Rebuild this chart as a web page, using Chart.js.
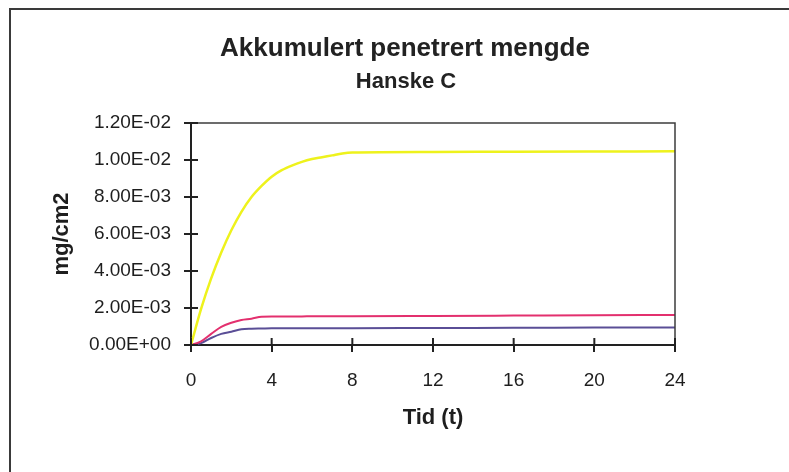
<!DOCTYPE html>
<html>
<head>
<meta charset="utf-8">
<script src="https://cdn.jsdelivr.net/npm/chart.js@4.4.0/dist/chart.umd.min.js"></script>
<style>
  html, body { margin: 0; padding: 0; background: #fff; }
  #ramme { position: absolute; left: 9px; top: 8px; width: 790px; height: 470px;
           border-left: 2px solid #3a3a3a; border-top: 2px solid #3a3a3a; }
  #graf { position: absolute; left: 0; top: 0; }
</style>
</head>
<body>
<div id="ramme"></div>
<canvas id="graf" width="789" height="472"></canvas>
<script>
// tid i timer
var tider = [0, 0.5, 1, 1.5, 2, 2.5, 3, 3.5, 4, 4.5, 5, 5.5, 6, 6.5, 7, 7.5, 8, 12, 16, 20, 24];

// akkumulert mengde (mg/cm2) for hver serie
var serieGul = [0, 0.00195, 0.0036, 0.0050, 0.0062, 0.0072, 0.0080, 0.0086, 0.0091, 0.00945,
    0.0097, 0.0099, 0.01005, 0.01015, 0.01025, 0.01035, 0.0104, 0.01043, 0.01045, 0.01046, 0.01047];
var serieRosa = [0, 0.0002, 0.0006, 0.00098, 0.0012, 0.00135, 0.00142, 0.00153, 0.00154, 0.00154,
    0.001545, 0.001545, 0.00155, 0.00155, 0.00155, 0.001555, 0.001555, 0.00157, 0.00159, 0.00161, 0.00162];
var serieLilla = [0, 0.0001, 0.00038, 0.0006, 0.00072, 0.00085, 0.00088, 0.00089, 0.0009, 0.0009,
    0.0009, 0.0009, 0.0009, 0.0009, 0.0009, 0.000905, 0.000905, 0.00092, 0.00093, 0.00094, 0.00095];

var tittel = 'Akkumulert penetrert mengde';
var undertittel = 'Hanske C';

var yMaks = 0.012, ySteg = 0.002;
var xMaks = 24, xSteg = 4;

function punkter(verdier) {
    var ut = [];
    for (var i = 0; i < tider.length; i++) {
        ut.push({ x: tider[i], y: verdier[i] });
    }
    return ut;
}

// 1.20E-02 format som i Excel
function excelFormat(v) {
    if (Math.abs(v) < 1e-12) return '0.00E+00';
    var s = v.toExponential(2).toUpperCase(); // 1.20E-2
    var deler = s.split('E');
    var eks = parseInt(deler[1]);
    var fortegn = eks < 0 ? '-' : '+';
    var tall = Math.abs(eks);
    return deler[0] + 'E' + fortegn + (tall < 10 ? '0' + tall : tall);
}

const fontNavn = "'Liberation Sans', Arial, sans-serif";

// overskrift tegnes selv (sentrert over hele diagramrammen, ikke bare plottet)
const overskrift = {
    id: 'overskrift',
    afterDraw(chart) {
        const ctx = chart.ctx;
        ctx.save();
        ctx.fillStyle = '#222';
        ctx.textAlign = 'center';
        ctx.textBaseline = 'middle';
        ctx.font = 'bold 26px ' + fontNavn;
        ctx.fillText(tittel, 405, 49);
        ctx.font = 'bold 22px ' + fontNavn;
        ctx.fillText(undertittel, 406, 82);
        ctx.restore();
    }
};

// tick-merker inn i plottet + ramme rundt plottområdet
const krysstikk = {
    id: 'krysstikk',
    afterDraw(chart) {
        const ctx = chart.ctx;
        const a = chart.chartArea;
        const xs = chart.scales.x, ys = chart.scales.y;
        ctx.save();
        ctx.strokeStyle = '#3c3c3c';
        ctx.lineWidth = 1.5;
        ctx.beginPath();
        ctx.moveTo(a.left, a.top);
        ctx.lineTo(a.right, a.top);
        ctx.lineTo(a.right, a.bottom);
        ctx.stroke();
        ctx.strokeStyle = '#222';
        ctx.lineWidth = 2;
        ys.ticks.forEach(function (t) {
            var py = ys.getPixelForValue(t.value);
            ctx.beginPath();
            ctx.moveTo(a.left, py);
            ctx.lineTo(a.left + 7, py);
            ctx.stroke();
        });
        xs.ticks.forEach(function (t) {
            var px = xs.getPixelForValue(t.value);
            ctx.beginPath();
            ctx.moveTo(px, a.bottom);
            ctx.lineTo(px, a.bottom - 7);
            ctx.stroke();
        });
        ctx.restore();
    }
};

new Chart(document.getElementById('graf').getContext('2d'), {
    type: 'line',
    data: {
        datasets: [
            { label: 'Serie 1', data: punkter(serieGul), borderColor: '#eef21c', borderWidth: 2.5 },
            { label: 'Serie 2', data: punkter(serieRosa), borderColor: '#e3306e', borderWidth: 2 },
            { label: 'Serie 3', data: punkter(serieLilla), borderColor: '#5a4e96', borderWidth: 2 }
        ]
    },
    options: {
        responsive: false,
        animation: false,
        elements: { point: { radius: 0 }, line: { cubicInterpolationMode: 'monotone' } },
        layout: { padding: { left: 40, right: 114, top: 123, bottom: 41 } },
        plugins: {
            legend: { display: false },
            tooltip: { enabled: false },
            title: { display: false }
        },
        scales: {
            x: {
                type: 'linear',
                min: 0,
                max: xMaks,
                afterBuildTicks: function (skala) {
                    var t = [];
                    for (var v = 0; v <= xMaks; v += xSteg) t.push({ value: v });
                    skala.ticks = t;
                },
                afterFit: function (skala) { skala.height = 86; },
                ticks: {
                    color: '#1e1e1e',
                    padding: 17,
                    font: { family: fontNavn, size: 19 },
                    callback: function (v) { return v; }
                },
                grid: { drawOnChartArea: false, tickLength: 7, color: '#222', lineWidth: 2 },
                border: { color: '#222', width: 2 },
                title: {
                    display: true,
                    text: 'Tid (t)',
                    color: '#1e1e1e',
                    font: { family: fontNavn, size: 22, weight: 'bold' },
                    padding: { top: 13, bottom: 0 }
                }
            },
            y: {
                min: 0,
                max: yMaks,
                afterBuildTicks: function (skala) {
                    var t = [];
                    for (var i = 0; i <= Math.round(yMaks / ySteg); i++) t.push({ value: i * ySteg });
                    skala.ticks = t;
                },
                afterFit: function (skala) { skala.width = 151; },
                ticks: {
                    color: '#1e1e1e',
                    padding: 13,
                    font: { family: fontNavn, size: 19 },
                    callback: function (v) { return excelFormat(v); }
                },
                grid: { drawOnChartArea: false, tickLength: 7, color: '#222', lineWidth: 2 },
                border: { color: '#222', width: 2 },
                title: {
                    display: true,
                    text: 'mg/cm2',
                    color: '#1e1e1e',
                    font: { family: fontNavn, size: 22, weight: 'bold' },
                    padding: { top: 9, bottom: 0 }
                }
            }
        }
    },
    plugins: [krysstikk, overskrift]
});
</script>
</body>
</html>
